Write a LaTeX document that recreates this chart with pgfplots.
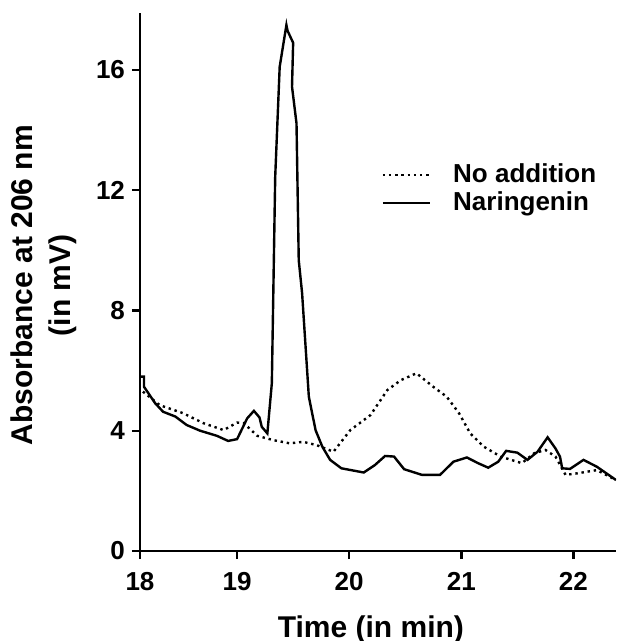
\documentclass[border=0pt]{standalone}
\usepackage{fontspec}
\setmainfont{Liberation Sans}
\usepackage{pgfplots}
\pgfplotsset{compat=1.18}

\begin{document}
\begin{tikzpicture}
\begin{axis}[
  at={(0,0)}, anchor=south west,
  scale only axis,
  width=238pt, height=269pt,
  xmin=18.134, xmax=22.38,
  ymin=0, ymax=17.89,
  axis lines=left,
  axis line style={-, line width=1.4pt},
  tick align=outside,
  major tick length=4pt,
  tick style={line width=1.2pt, black},
  xtick={18.134,19,20,21,22},
  xticklabels={18,19,20,21,22},
  ytick={0,4,8,12,16},
  /pgf/number format/assume math mode=true,
  tick label style={font=\bfseries\fontsize{13}{14}\selectfont},
  xticklabel style={yshift=-3pt},
  xlabel={Time (in min)},
  ylabel={Absorbance at 206 nm\\(in mV)},
  label style={font=\bfseries\fontsize{15}{19}\selectfont, align=center},
  xlabel style={at={(axis description cs:0.485,-0.146)}, anchor=center},
  ylabel style={at={(axis description cs:-0.202,0.494)}, anchor=center},
  legend style={draw=none, fill=none, at={(axis description cs:0.494,0.735)}, anchor=north west,
    font=\bfseries\fontsize{13}{14}\selectfont, row sep=-1pt},
  legend cell align=left,
  legend image code/.code={\draw[#1] (0cm,0cm) -- (0.83cm,0cm);},
]
\addplot[black, line width=1.2pt, dash pattern=on 1.2pt off 1.9pt] coordinates {
(18.16,5.30) (18.31,4.85) (18.52,4.58) (18.70,4.25) (18.88,4.02) (19.00,4.27)
(19.06,4.25) (19.18,3.83) (19.32,3.69) (19.47,3.58) (19.59,3.63) (19.71,3.52)
(19.86,3.30) (20.01,4.02) (20.19,4.52) (20.34,5.35) (20.46,5.68) (20.60,5.91)
(20.75,5.46) (20.87,5.13) (20.98,4.58) (21.08,3.91) (21.20,3.47) (21.35,3.14)
(21.54,2.92) (21.65,3.25) (21.75,3.36) (21.84,3.14) (21.93,2.53) (22.03,2.58)
(22.21,2.69) (22.38,2.36)
};
\addlegendentry{\hspace{9pt}No addition}
\addplot[black, line width=1.2pt] coordinates {
(18.14,5.80) (18.17,5.80) (18.17,5.46) (18.27,4.91) (18.34,4.63) (18.45,4.47)
(18.55,4.19) (18.67,4.00) (18.82,3.83) (18.92,3.66) (19.00,3.72) (19.09,4.41)
(19.15,4.66) (19.20,4.44) (19.22,4.13) (19.27,3.91) (19.31,5.58) (19.34,12.44)
(19.38,16.10) (19.44,17.49) (19.45,17.30) (19.50,16.90) (19.49,15.44) (19.53,14.22)
(19.55,9.67) (19.58,8.57) (19.64,5.13) (19.70,4.02) (19.76,3.47) (19.83,3.03)
(19.93,2.75) (20.13,2.61) (20.23,2.86) (20.32,3.16) (20.40,3.14) (20.49,2.72)
(20.65,2.53) (20.81,2.53) (20.93,2.97) (21.05,3.11) (21.15,2.92) (21.24,2.77)
(21.33,2.97) (21.40,3.33) (21.50,3.27) (21.59,3.03) (21.68,3.30) (21.77,3.78)
(21.84,3.41) (21.88,3.14) (21.90,2.75) (21.97,2.73) (22.09,3.03) (22.21,2.80)
(22.38,2.36)
};
\addlegendentry{\hspace{9pt}Naringenin}
\end{axis}
\pgfresetboundingbox
\path[use as bounding box] (-70pt,-45pt) rectangle (238pt,275.5pt);
\end{tikzpicture}
\end{document}
